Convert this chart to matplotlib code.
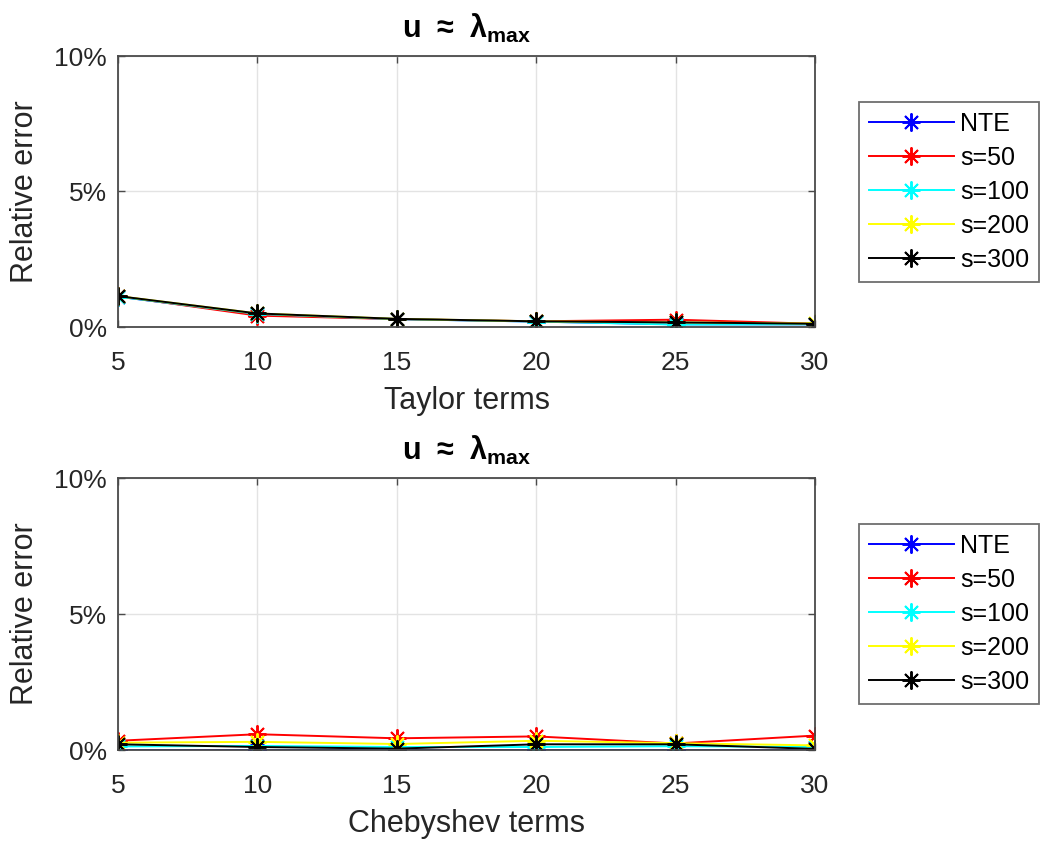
import matplotlib
matplotlib.use("Agg")
import matplotlib.pyplot as plt
from matplotlib.ticker import FuncFormatter

plt.rcParams["font.family"] = ["Liberation Sans", "DejaVu Sans"]
plt.rcParams["mathtext.fontset"] = "custom"
plt.rcParams["mathtext.rm"] = "Liberation Sans"
plt.rcParams["mathtext.bf"] = "Liberation Sans:bold"

TERMOS = [5, 10, 15, 20, 25, 30]
LEGENDAS = ["NTE", "s=50", "s=100", "s=200", "s=300"]
CORES = ["#0000ff", "#ff0000", "#00ffff", "#ffff00", "#000000"]

# erro relativo em %
TAYLOR_NTE = [1.12, 0.47, 0.29, 0.20, 0.10, 0.10]
TAYLOR_S50 = [1.14, 0.42, 0.29, 0.21, 0.27, 0.12]
TAYLOR_S100 = [1.12, 0.48, 0.29, 0.20, 0.09, 0.10]
TAYLOR_S200 = [1.14, 0.50, 0.30, 0.21, 0.17, 0.13]
TAYLOR_S300 = [1.14, 0.50, 0.30, 0.21, 0.17, 0.12]

CHEB_NTE = [0.00, 0.00, 0.00, 0.00, 0.00, 0.00]
CHEB_S50 = [0.34, 0.58, 0.43, 0.50, 0.24, 0.53]
CHEB_S100 = [0.13, 0.15, 0.11, 0.11, 0.14, 0.11]
CHEB_S200 = [0.27, 0.30, 0.22, 0.34, 0.25, 0.17]
CHEB_S300 = [0.21, 0.11, 0.05, 0.21, 0.21, 0.04]

TITULO = r"$\mathbf{u\ \approx\ \lambda_{max}}$"
COR_EIXO = "#262626"
COR_SPINE = "#4a4a4a"


def desenhar(ax, series, xlabel):
    for vals, cor, nome in zip(series, CORES, LEGENDAS):
        ax.plot(TERMOS, vals, color=cor, linewidth=1.4, marker=(8, 2, 0),
                markersize=13, markeredgewidth=1.4, label=nome)
    ax.set_xlim(5, 30)
    ax.set_ylim(0, 10)
    ax.set_xticks(TERMOS)
    ax.set_yticks([0, 5, 10])
    ax.yaxis.set_major_formatter(FuncFormatter(lambda v, p: f"{v:.0f}%"))
    ax.grid(True, color="#e3e3e3", linewidth=1)
    ax.set_axisbelow(True)
    ax.tick_params(direction="in", top=True, right=True, labelsize=19,
                   colors=COR_EIXO, length=5, width=1)
    ax.tick_params(axis="x", pad=17)
    ax.tick_params(axis="y", pad=8)
    ax.tick_params(color=COR_SPINE)
    for sp in ax.spines.values():
        sp.set_color(COR_SPINE)
        sp.set_linewidth(1.3)
    ax.set_xlabel(xlabel, fontsize=22, color=COR_EIXO, labelpad=8)
    ax.set_ylabel("Relative error", fontsize=22, color=COR_EIXO, labelpad=10)
    ax.set_title(TITULO, fontsize=22, pad=13)
    leg = ax.legend(loc="center left", bbox_to_anchor=(1.063, 0.5), fontsize=18,
                    frameon=True, fancybox=False, edgecolor=COR_SPINE,
                    borderaxespad=0, handlelength=3.4, borderpad=0.4,
                    labelspacing=0.4, handletextpad=0.25)
    leg.get_frame().set_linewidth(1.3)


fig = plt.figure(figsize=(10.5, 8.47), dpi=100)
ax1 = fig.add_axes([118 / 1050, 1 - 327 / 847, 697 / 1050, 271 / 847])
ax2 = fig.add_axes([118 / 1050, 1 - 750 / 847, 697 / 1050, 272 / 847])

desenhar(ax1, [TAYLOR_NTE, TAYLOR_S50, TAYLOR_S100, TAYLOR_S200, TAYLOR_S300], "Taylor terms")
desenhar(ax2, [CHEB_NTE, CHEB_S50, CHEB_S100, CHEB_S200, CHEB_S300], "Chebyshev terms")

fig.savefig("out.png", dpi=100)
